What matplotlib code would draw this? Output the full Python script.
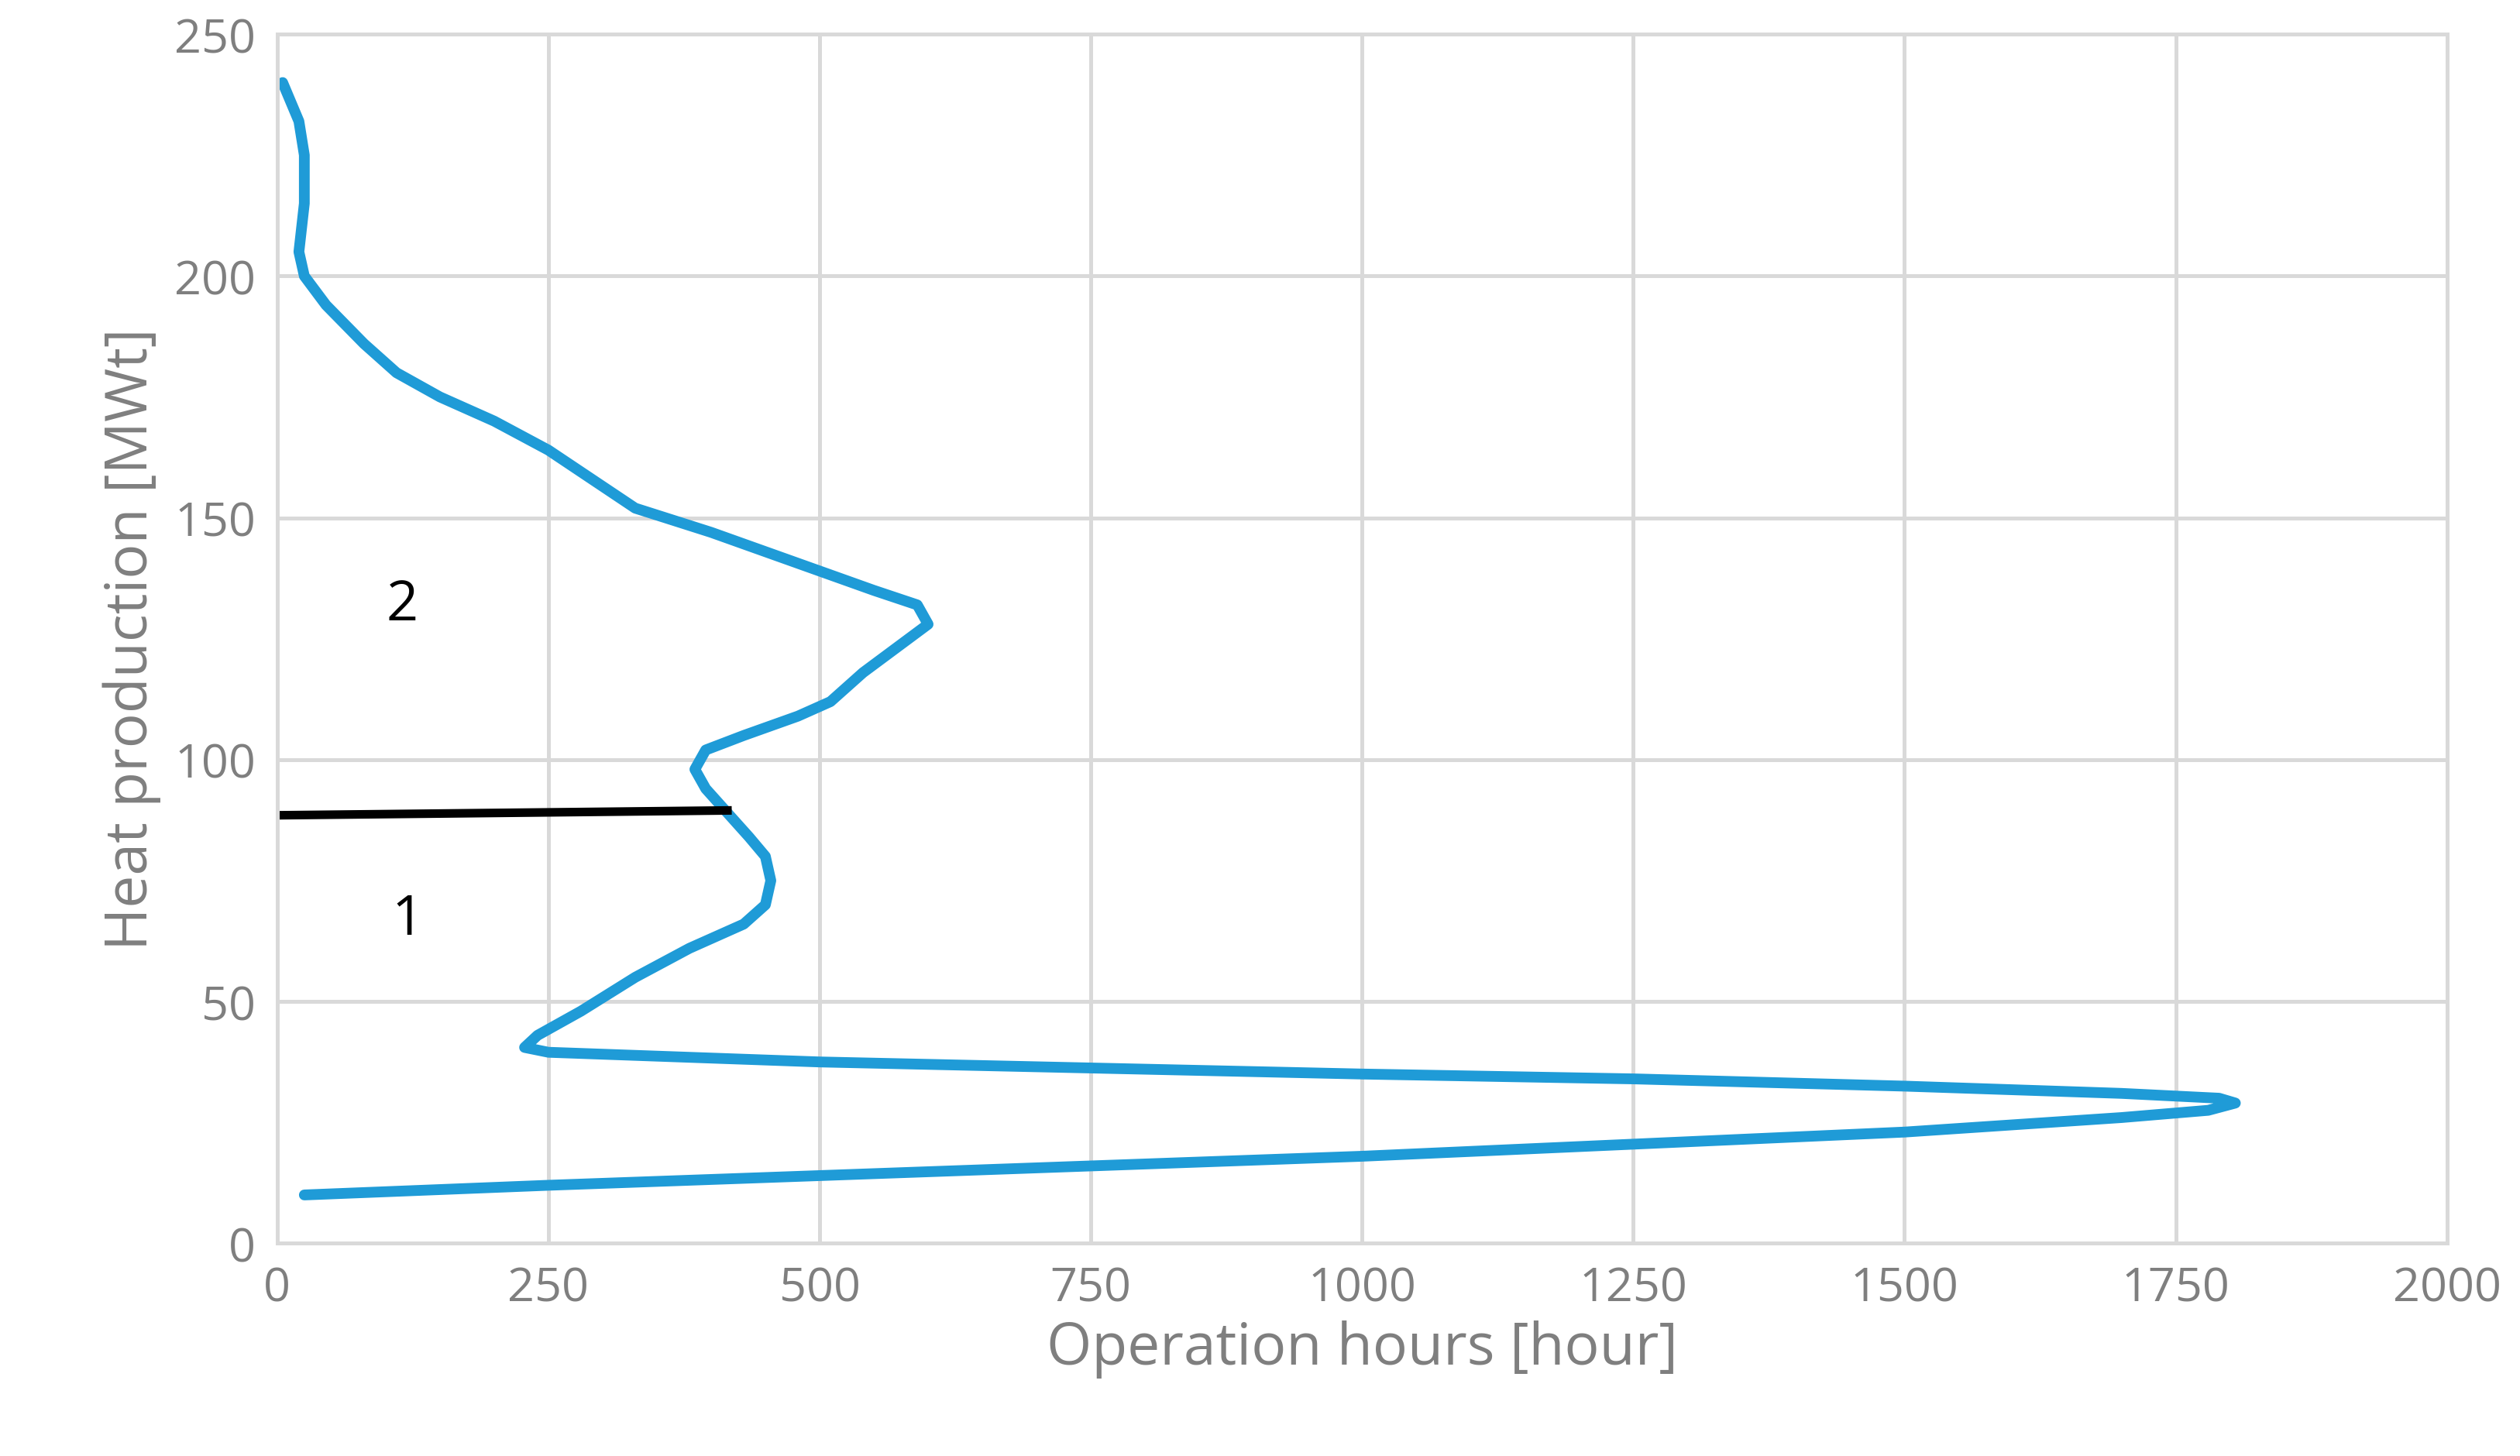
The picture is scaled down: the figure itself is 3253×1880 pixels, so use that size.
import matplotlib.pyplot as plt

# Curve (operation hours, heat production MWt)
hours = [25, 250, 500, 1000, 1500, 1700, 1780, 1805, 1790, 1700, 1500, 1250, 1000, 500, 250,
         228, 240, 280, 330, 380, 430, 450, 455, 450, 435, 415, 395, 385, 395, 430,
         480, 510, 540, 570, 600, 590, 550, 500, 400, 330, 250, 200, 150, 110, 80,
         45, 25, 20, 25, 25, 20, 5]
heat = [10, 12, 14, 18, 23, 26, 27.5, 29, 30, 31, 32.5, 34, 35, 37.5, 39.5,
        40.5, 43, 48, 55, 61, 66, 70, 75, 80, 84, 89, 94, 98, 102, 105,
        109, 112, 118, 123, 128, 132, 135, 139, 147, 152, 164, 170, 175, 180, 186,
        194, 200, 205, 215, 225, 232, 240]
split_x = [0, 415]
split_y = [88.5, 89.5]

grey = '#7f7f7f'
plt.rcParams['font.family'] = ['Open Sans', 'DejaVu Sans']
fig = plt.figure(figsize=(16.265, 9.405), dpi=200)
ax = fig.add_axes([0.110, 0.146, 0.861, 0.830])
ax.plot(hours, heat, color='#1f9bd7', lw=5, solid_joinstyle='round', solid_capstyle='round')
ax.plot(split_x, split_y, color='black', lw=4)
ax.text(115, 132, '2', fontsize=26, ha='center', va='center')
ax.text(120, 67, '1', fontsize=26, ha='center', va='center')

ax.set_xlim(0, 2000)
ax.set_ylim(0, 250)
ax.set_xticks(range(0, 2001, 250))
ax.set_yticks(range(0, 251, 50))
ax.grid(color='#d9d9d9', lw=1.8)
ax.set_axisbelow(True)
for s in ax.spines.values():
    s.set_color('#d9d9d9')
    s.set_linewidth(1.8)
ax.tick_params(length=0, labelsize=22, labelcolor=grey, pad=10)
ax.set_xlabel('Operation hours [hour]', fontsize=27, color=grey, labelpad=4)
ax.set_ylabel('Heat production [MWt]', fontsize=27, color=grey, labelpad=6)
fig.savefig('out.png')
